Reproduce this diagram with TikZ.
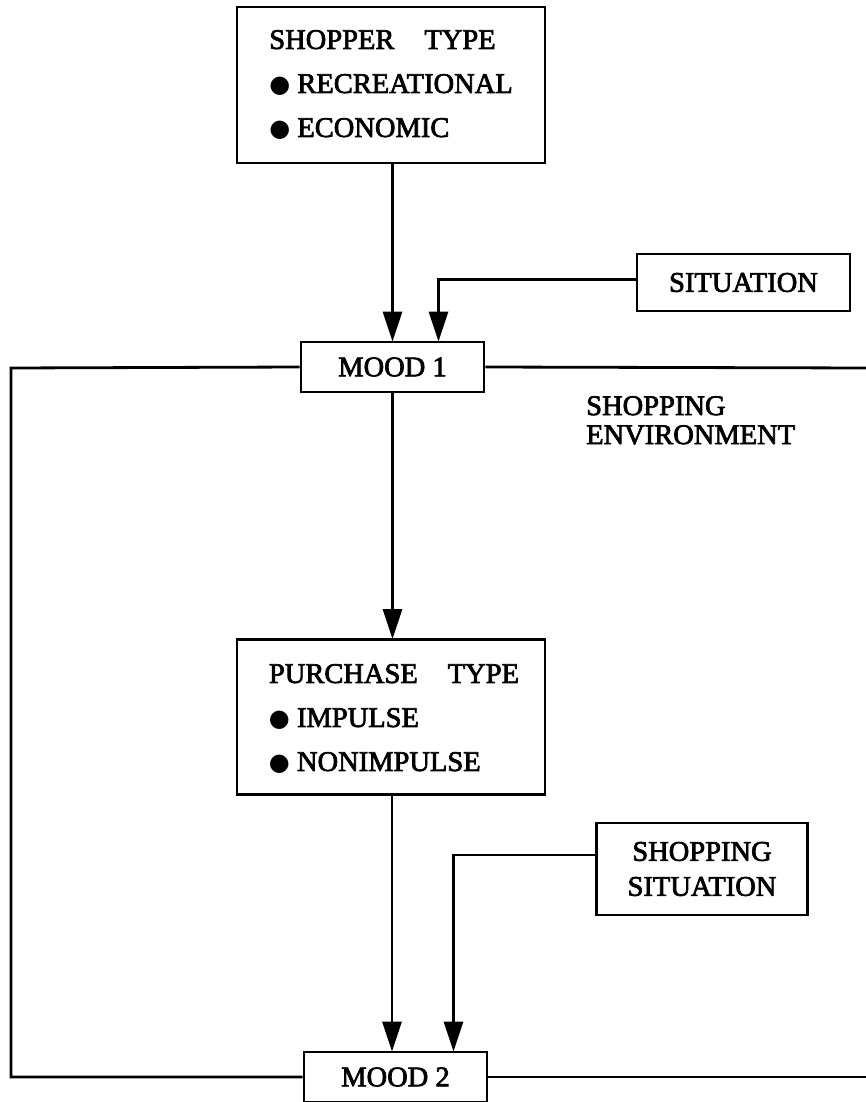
\documentclass[tikz,border=0pt]{standalone}
\usepackage{fontspec}
\setmainfont{Liberation Serif}[FakeBold=2.5]
\newfontfamily\dotfont{DejaVu Sans}
\usetikzlibrary{arrows.meta}
\newcommand{\blt}{{\dotfont\fontsize{24}{24}\selectfont ●}\ }
\newcommand{\wgap}{\hspace{30pt}}
\tikzset{
  x=1pt, y=-1pt,
  box/.style={draw, line width=2.8pt, inner sep=0pt, font=\fontsize{28.5}{44}\selectfont},
  label/.style={inner sep=0pt, font=\fontsize{28.5}{44}\selectfont},
  wire/.style={line width=2.8pt},
  arr/.style={wire, -{Triangle[length=30pt, width=19pt]}, shorten >=-1pt},
}
\begin{document}
\begin{tikzpicture}
\useasboundingbox (0,0) rectangle (865,1102);

% boxes
\node[box, minimum width=308pt, minimum height=156pt, align=left] (shopper) at (391,85)
  {SHOPPER\wgap TYPE\\ \blt RECREATIONAL\\ \blt ECONOMIC};
\node[box, minimum width=213pt, minimum height=57pt] (situation) at (743.5,282.5) {SITUATION};
\node[box, minimum width=183pt, minimum height=50pt] (mood1) at (392.5,367) {MOOD 1};
\node[box, minimum width=308pt, minimum height=155pt] (purchase) at (391,717) {};
\node[label, align=left] (purchasetext) at (394,719)
  {PURCHASE\wgap TYPE\\ \blt IMPULSE\\ \blt NONIMPULSE};
\node[box, minimum width=211pt, minimum height=92pt, align=center, font=\fontsize{28.5}{35}\selectfont] (shopsit) at (702,869)
  {SHOPPING\\SITUATION};
\node[box, minimum width=183pt, minimum height=50pt] (mood2) at (395.5,1077) {MOOD 2};

% environment label
\node[anchor=north west, align=left, inner sep=0pt, font=\fontsize{28.5}{29}\selectfont] (env) at (586,396)
  {SHOPPING\\ENVIRONMENT};

% frame of the shopping environment
\coordinate (tr) at (870,368);
\coordinate (br) at (870,1077);
\coordinate (tl) at (11,368);
\coordinate (bl) at (11,1077);
\draw[wire, line join=miter] (mood1.west) -- (tl) -- (bl) -- (mood2.west);
\draw[wire] (mood1.east) -- (tr);
\draw[wire] (mood2.east) -- (br);

% entry points of the side influences
\coordinate (m1in) at ([xshift=46pt]mood1.north);
\coordinate (m2in) at ([xshift=58pt]mood2.north);
\coordinate (m2main) at ([xshift=-3.5pt]mood2.north);
\coordinate (sitout) at ([yshift=3pt]situation.west);
\coordinate (shopsitout) at ([yshift=14pt]shopsit.west);

% influences
\draw[arr] (shopper.south -| mood1.north) -- (mood1.north);
\draw[arr] (sitout) -| (m1in);
\draw[arr] (mood1.south) -- (mood1.south |- purchase.north);
\draw[arr] (purchase.south -| m2main) -- (m2main);
\draw[arr] (shopsitout) -| (m2in);
\end{tikzpicture}
\end{document}
